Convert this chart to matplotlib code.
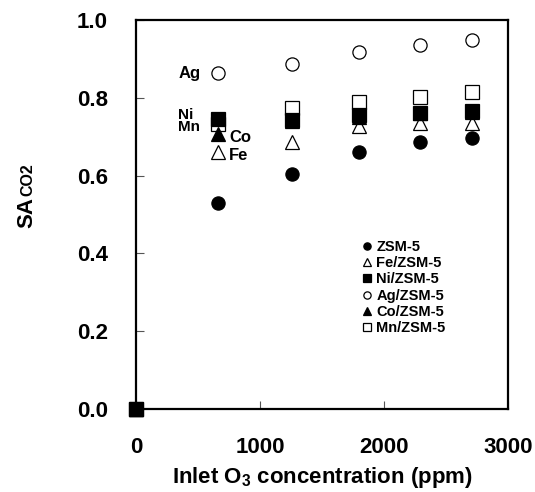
import matplotlib
matplotlib.use("Agg")
import matplotlib.pyplot as plt

plt.rcParams["font.family"] = ["Liberation Sans", "DejaVu Sans"]
plt.rcParams["font.weight"] = "bold"
plt.rcParams["mathtext.fontset"] = "custom"
plt.rcParams["mathtext.rm"] = "Liberation Sans:bold"
plt.rcParams["mathtext.bf"] = "Liberation Sans:bold"

# inlet O3 concentration (ppm)
o3 = [0, 660, 1260, 1800, 2290, 2710]

# SA_CO2 per catalyst
zsm5 = [0, 0.530, 0.605, 0.660, 0.687, 0.698]
fe_zsm5 = [0, 0.660, 0.687, 0.728, 0.736, 0.736]
ni_zsm5 = [0, 0.746, 0.742, 0.756, 0.762, 0.767]
ag_zsm5 = [0, 0.864, 0.887, 0.918, 0.936, 0.949]
co_zsm5 = [0, 0.706, 0.740, 0.752, 0.760, 0.765]
mn_zsm5 = [0, 0.733, 0.774, 0.790, 0.803, 0.815]

series = [
    ("ZSM-5", zsm5, "o", "black", 5),
    ("Fe/ZSM-5", fe_zsm5, "^", "white", 3),
    ("Ni/ZSM-5", ni_zsm5, "s", "black", 6),
    ("Ag/ZSM-5", ag_zsm5, "o", "white", 5),
    ("Co/ZSM-5", co_zsm5, "^", "black", 3.5),
    ("Mn/ZSM-5", mn_zsm5, "s", "white", 2),
]

fig = plt.figure(figsize=(5.35, 4.92), dpi=100)
ax = fig.add_axes([0.254, 0.169, 0.6955, 0.790])

for label, vals, marker, face, z in series:
    ax.plot(o3, vals, linestyle="none", marker=marker, markersize=9.5,
            markerfacecolor=face, markeredgecolor="black",
            markeredgewidth=0.9, label=label, zorder=z, clip_on=False)

ax.set_xlim(0, 3000)
ax.set_ylim(0, 1.0)
ax.set_xticks([0, 1000, 2000, 3000])
ax.set_yticks([0.0, 0.2, 0.4, 0.6, 0.8, 1.0])
ax.set_yticklabels(["0.0", "0.2", "0.4", "0.6", "0.8", "1.0"])
ax.tick_params(direction="in", length=6, width=0.8, labelsize=16,
               pad=20, color="#555555")
for s in ax.spines.values():
    s.set_linewidth(1.6)

ax.set_xlabel("Inlet O$_3$ concentration (ppm)", fontsize=16,
              fontweight="bold", labelpad=5)

# y label: "SA" followed by smaller "CO2" on the same baseline
sa = fig.text(32 / 535, 1 - 228 / 492, "SA", rotation=90, fontsize=16,
              ha="left", va="baseline", rotation_mode="anchor")
fig.canvas.draw()
bb = sa.get_window_extent()
fig.text(32 / 535, bb.y1 / fig.bbox.height + 0.002, "CO2", rotation=90,
         fontsize=11.5, ha="left", va="baseline", rotation_mode="anchor")

# labels next to first data column
ax.text(524, 0.864, "Ag", ha="right", va="center", fontsize=12)
ax.text(339, 0.741, "Ni\nMn", ha="left", va="center", fontsize=11,
        linespacing=0.82)
ax.text(750, 0.697, "Co", ha="left", va="center", fontsize=12)
ax.text(750, 0.651, "Fe", ha="left", va="center", fontsize=12)

leg = ax.legend(loc="upper left", bbox_to_anchor=(0.591, 0.454),
                frameon=False, fontsize=10.5, markerscale=0.55,
                handlelength=0.6, handletextpad=0.3, labelspacing=0.16,
                borderpad=0)

fig.savefig("out.png", dpi=100)
